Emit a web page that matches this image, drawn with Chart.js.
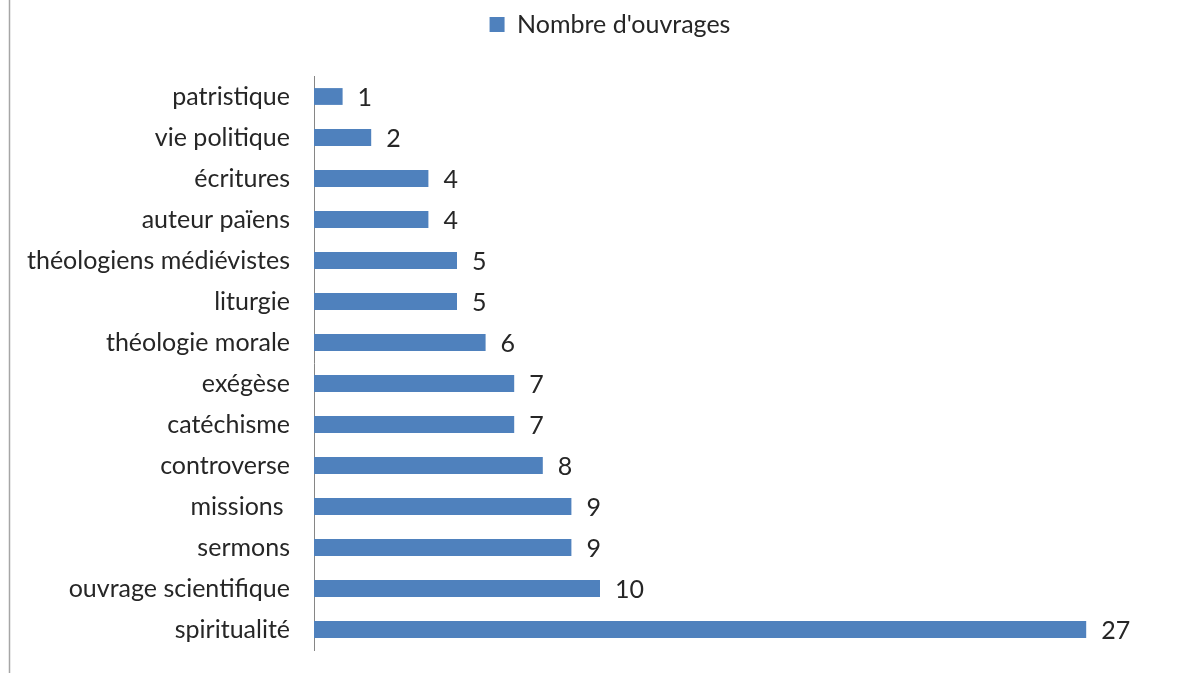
<!DOCTYPE html>
<html><head><meta charset="utf-8">
<script src="https://cdn.jsdelivr.net/npm/chart.js@4/dist/chart.umd.min.js"></script>
<style>html,body{margin:0;padding:0;background:#fff;}#wrap{width:1199px;height:673px;position:relative;}</style>
</head><body><div id="wrap"><canvas id="c" width="1199" height="673"></canvas></div>
<script>
const categories = ["patristique","vie politique","écritures","auteur païens","théologiens médiévistes","liturgie","théologie morale","exégèse","catéchisme","controverse","missions ","sermons","ouvrage scientifique","spiritualité"];
const values = [1,2,4,4,5,5,6,7,7,8,9,9,10,27];
const seriesName = "Nombre d'ouvrages";
const FONT = "Lato, 'Open Sans', sans-serif";
const FS = 25;
const TXT = '#262626';

const labelPlugin = {
  id:'vals',
  afterDatasetsDraw(chart){
    const ctx = chart.ctx; const meta = chart.getDatasetMeta(0);
    ctx.save(); ctx.font = FS + 'px ' + FONT; ctx.fillStyle = TXT; ctx.textAlign='left'; ctx.textBaseline='middle';
    meta.data.forEach((bar,i)=>{ ctx.fillText(String(values[i]), bar.x + 15, bar.y + 1); });
    ctx.restore();
  }
};
const framePlugin = {
  id:'frame',
  afterLayout(chart){ if (chart.legend) { chart.legend.left += 24; chart.legend.right += 24; } },
  beforeDraw(chart){ const ctx=chart.ctx; ctx.save(); ctx.fillStyle='#fff'; ctx.fillRect(0,0,chart.width,chart.height); ctx.strokeStyle='#a6a6a6'; ctx.lineWidth=1.5; ctx.beginPath(); ctx.moveTo(9.5,0); ctx.lineTo(9.5,673); ctx.stroke(); ctx.restore(); }
};

new Chart(document.getElementById('c'), {
  type:'bar',
  data:{ labels:categories, datasets:[{ label:seriesName, data:values, backgroundColor:'#4F81BD', borderWidth:0, barPercentage:0.41, categoryPercentage:1 }]},
  options:{
    indexAxis:'y', responsive:false, animation:false, devicePixelRatio:1,
    layout:{ padding:{ left:0, right:27, top:0, bottom:23 } },
    plugins:{
      legend:{ display:true, position:'top', labels:{ font:{ family:FONT, size:FS }, color:TXT, boxWidth:15, boxHeight:15, padding:12 } },
      tooltip:{ enabled:false }
    },
    scales:{
      x:{ display:true, position:'top', min:0, max:30, grid:{ display:false, drawTicks:false }, border:{ display:false }, ticks:{ display:false },
          afterFit(s){ s.height = 29; s.paddingLeft = 0; s.paddingRight = 0; } },
      y:{ grid:{ display:false, drawTicks:false }, border:{ display:true, color:'#868686', width:1 },
          ticks:{ font:{ family:FONT, size:FS }, color:TXT, padding:24 },
          afterFit(s){ s.width = 314; s.paddingTop = 0; s.paddingBottom = 0; } }
    }
  },
  plugins:[framePlugin, labelPlugin]
});
</script></body></html>
